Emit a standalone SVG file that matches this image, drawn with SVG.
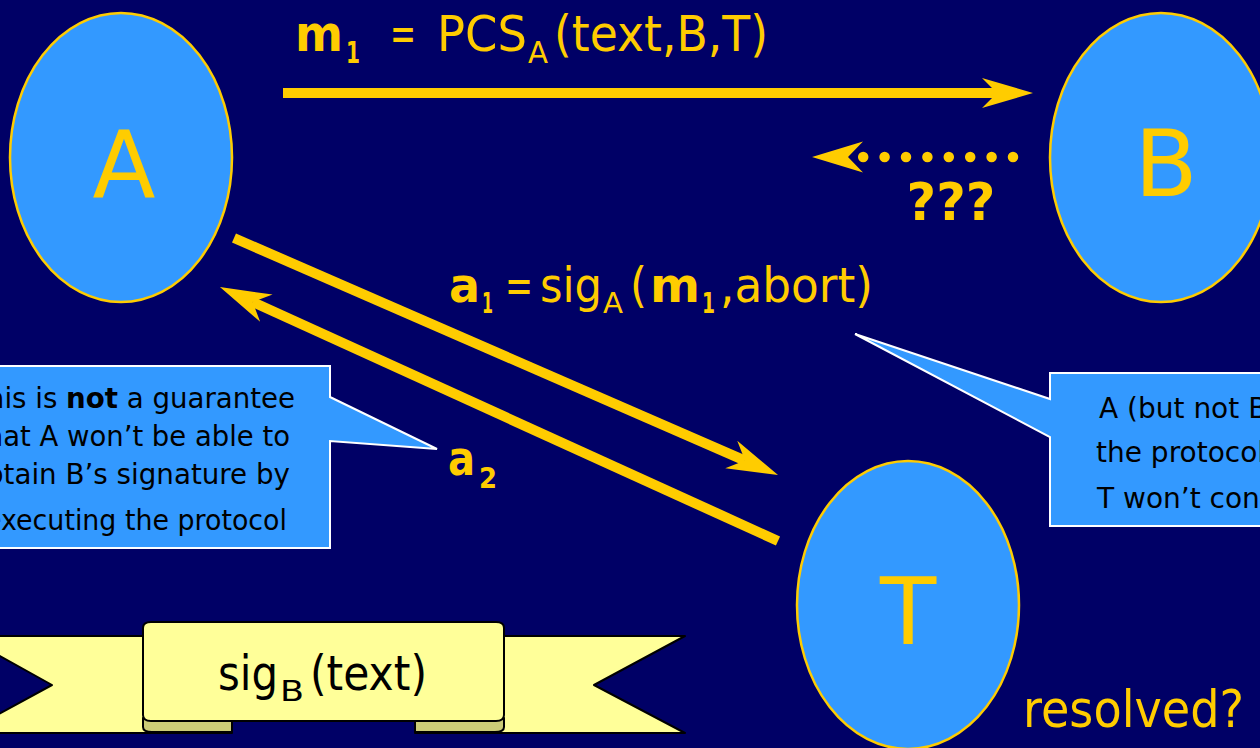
<svg xmlns="http://www.w3.org/2000/svg" width="1260" height="748" viewBox="0 0 1260 748">
<style>
.bg{fill:#000066}
.node{fill:#3399ff;stroke:#ffcc00;stroke-width:2.5}
.nlab{font-family:"DejaVu Sans","Liberation Sans",sans-serif;font-size:92px;fill:#ffcc00;text-anchor:middle}
.lab{font-family:"DejaVu Sans","Liberation Sans",sans-serif;fill:#ffcc00}
.b{font-weight:bold}
.conn{stroke:#ffcc00;stroke-width:10;fill:none;stroke-linecap:butt}
.dots{stroke:#ffcc00;stroke-width:10.5;fill:none;stroke-linecap:round;stroke-dasharray:0 21.4}
.call{fill:#3399ff;stroke:#ffffff;stroke-width:2}
.ctext{font-family:"DejaVu Sans","Liberation Sans",sans-serif;font-size:27.5px;fill:#000000}
.ctextr{font-family:"DejaVu Sans","Liberation Sans",sans-serif;font-size:28px;fill:#000000}
.rib{fill:#ffff99;stroke:#000000;stroke-width:2;stroke-linejoin:round}
.fold{fill:#cccc77;stroke:#000000;stroke-width:2;stroke-linejoin:round}
.rtext{font-family:"DejaVu Sans","Liberation Sans",sans-serif;fill:#000000}
</style>
<defs>
<marker id="head" markerUnits="userSpaceOnUse" markerWidth="60" markerHeight="40" viewBox="-20 -20 60 40" refX="0" refY="0" orient="auto" overflow="visible">
<path d="M36,0 L-15,-15 L0,0 L-15,15 Z" fill="#ffcc00"/>
</marker>
</defs>
<rect class="bg" x="0" y="0" width="1260" height="748"/>

<g id="connectors">
<path class="conn" d="M283,93 L997,93" marker-end="url(#head)"/>
<path class="conn" d="M234,238 L745,460.6" marker-end="url(#head)"/>
<path class="conn" d="M778,541 L252.7,302" marker-end="url(#head)"/>
<path class="dots" d="M1013,157 L862.5,157"/>
<path d="M812,157 L863,141.5 L848,157 L863,172.5 Z" fill="#ffcc00"/>
</g>

<g id="node-A">
<ellipse class="node" cx="121" cy="157.5" rx="111" ry="144.5"/>
<text class="nlab" x="124" y="197">A</text>
</g>
<g id="node-B">
<ellipse class="node" cx="1161" cy="157.5" rx="111" ry="144.5"/>
<text class="nlab" x="1166" y="196">B</text>
</g>
<g id="node-T">
<ellipse class="node" cx="908" cy="605" rx="111" ry="144"/>
<text class="nlab" x="908" y="644">T</text>
</g>

<g id="label-m1">
<text class="lab" y="51" font-size="50"><tspan class="b" x="295" textLength="48" lengthAdjust="spacingAndGlyphs">m</tspan><tspan class="b" x="346" y="63" font-size="31" textLength="14" lengthAdjust="spacingAndGlyphs">1</tspan><tspan x="390" y="51" textLength="26" lengthAdjust="spacingAndGlyphs">=</tspan><tspan x="437" textLength="90" lengthAdjust="spacingAndGlyphs">PCS</tspan><tspan x="528" y="63" font-size="30" textLength="20" lengthAdjust="spacingAndGlyphs">A</tspan><tspan x="554" y="51" textLength="214" lengthAdjust="spacingAndGlyphs">(text,B,T)</tspan></text>
</g>

<g id="label-unknown">
<text class="lab b" x="951" y="220" font-size="51" text-anchor="middle">???</text>
</g>

<g id="label-a1">
<text class="lab" y="302" font-size="48"><tspan class="b" x="449" textLength="31" lengthAdjust="spacingAndGlyphs">a</tspan><tspan class="b" x="482" y="313" font-size="29" textLength="11" lengthAdjust="spacingAndGlyphs">1</tspan><tspan x="505" y="302" textLength="28" lengthAdjust="spacingAndGlyphs">=</tspan><tspan x="540" textLength="62" lengthAdjust="spacingAndGlyphs">sig</tspan><tspan x="603" y="313" font-size="28" textLength="20" lengthAdjust="spacingAndGlyphs">A</tspan><tspan x="630" y="302" textLength="17" lengthAdjust="spacingAndGlyphs">(</tspan><tspan class="b" x="650" textLength="50" lengthAdjust="spacingAndGlyphs">m</tspan><tspan class="b" x="702" y="313" font-size="29" textLength="13" lengthAdjust="spacingAndGlyphs">1</tspan><tspan x="720" y="302" textLength="153" lengthAdjust="spacingAndGlyphs">,abort)</tspan></text>
</g>

<g id="label-a2">
<text class="lab b" y="475" font-size="48"><tspan x="448" textLength="27" lengthAdjust="spacingAndGlyphs">a</tspan><tspan x="479" y="488" font-size="29" textLength="18" lengthAdjust="spacingAndGlyphs">2</tspan></text>
</g>

<g id="label-resolved">
<text class="lab" x="1023" y="727" font-size="52" textLength="221" lengthAdjust="spacingAndGlyphs">resolved?</text>
</g>

<g id="callout-left">
<path class="call" d="M-70,366 L330,366 L330,397 L437,449 L330,441 L330,548 L-70,548 Z"/>
<text class="ctext" x="-30" y="408" textLength="325" lengthAdjust="spacingAndGlyphs">This is <tspan font-weight="bold">not</tspan> a guarantee</text>
<text class="ctext" x="-25" y="446" textLength="315" lengthAdjust="spacingAndGlyphs">that A won’t be able to</text>
<text class="ctext" x="-31" y="484" textLength="321" lengthAdjust="spacingAndGlyphs">obtain B’s signature by</text>
<text class="ctext" x="-15" y="530" textLength="302" lengthAdjust="spacingAndGlyphs">executing the protocol</text>
</g>

<g id="callout-right">
<path class="call" d="M1050,373 L1270,373 L1270,526 L1050,526 L1050,437 L855,334 L1050,399 Z"/>
<text class="ctextr" x="1099" y="418">A (but not B)</text>
<text class="ctextr" x="1096" y="462">the protocol</text>
<text class="ctextr" x="1097" y="508">T won’t con</text>
</g>

<g id="ribbon">
<path class="rib" d="M-36,636 L232,636 L232,733 L-36,733 L52,685 Z"/>
<path class="rib" d="M685,636 L415,636 L415,733 L685,733 L594,685 Z"/>
<path class="fold" d="M232,718 L232,732 L152,732 Q143,732 143,727 L143,718 Z"/>
<path class="fold" d="M415,718 L415,732 L495,732 Q504,732 504,727 L504,718 Z"/>
<path class="rib" d="M151,622 L496,622 Q504,622 504,628 L504,715 Q504,721 496,721 L151,721 Q143,721 143,715 L143,628 Q143,622 151,622 Z"/>
<text class="rtext" y="690" font-size="48"><tspan x="218" textLength="60" lengthAdjust="spacingAndGlyphs">sig</tspan><tspan x="280" y="701" font-size="28" textLength="24" lengthAdjust="spacingAndGlyphs">B</tspan><tspan x="310" y="690" textLength="117" lengthAdjust="spacingAndGlyphs">(text)</tspan></text>
</g>
</svg>
